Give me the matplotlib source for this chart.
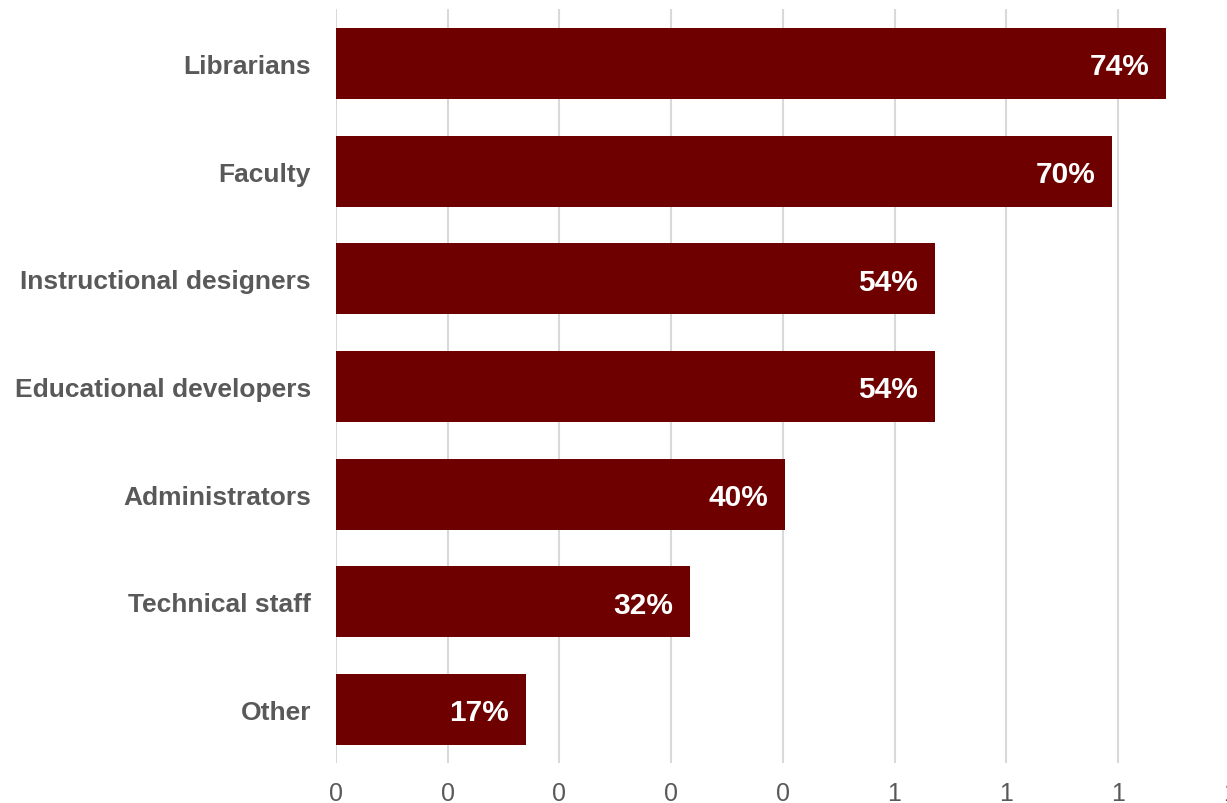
import matplotlib
matplotlib.use("Agg")
import matplotlib.pyplot as plt
import numpy as np

# share of respondents per group (top to bottom)
groups = ["Librarians", "Faculty", "Instructional designers", "Educational developers",
          "Administrators", "Technical staff", "Other"]
shares = [0.743, 0.695, 0.536, 0.536, 0.402, 0.317, 0.170]
tick_values = [0.0, 0.1, 0.2, 0.3, 0.4, 0.5, 0.6, 0.7, 0.8]
tick_labels = ["0", "0", "0", "0", "0", "1", "1", "1", "1"]

bar_color = "#6e0000"
text_gray = "#595959"

plt.rcParams["font.family"] = ["Liberation Sans", "DejaVu Sans"]

fig = plt.figure(figsize=(12.27, 8.04), dpi=100)
# axes run a little past the right edge so the last tick is cut off
ax = fig.add_axes([336 / 1227, 1 - 764 / 804, (1229.6 - 336) / 1227, (764 - 10) / 804])

y = np.arange(len(groups))
ax.barh(y, shares, height=0.66, color=bar_color, zorder=3)

# value labels: baseline set half a cap height below the bar centre
for yi, v in zip(y, shares):
    ax.annotate(f"{round(v * 100)}%", xy=(v, yi), xytext=(-12, -7.8),
                textcoords="offset points", ha="right", va="baseline",
                color="white", fontsize=21.5, fontweight="bold", zorder=4)

ax.set_xlim(0, 0.8)
ax.set_ylim(len(groups) - 1 + 0.497, -0.506)
ax.set_yticks(y)
ax.set_yticklabels(groups, fontsize=19, fontweight="bold", color=text_gray)
ax.set_xticks(tick_values)
ax.set_xticklabels(tick_labels, fontsize=18, color=text_gray)
ax.tick_params(axis="both", length=0)
ax.tick_params(axis="y", pad=18)
ax.tick_params(axis="x", pad=13)
ax.xaxis.grid(True, color="#d9d9d9", linewidth=1.5, zorder=0)
for s in ax.spines.values():
    s.set_visible(False)

fig.savefig("out.png", dpi=100)
